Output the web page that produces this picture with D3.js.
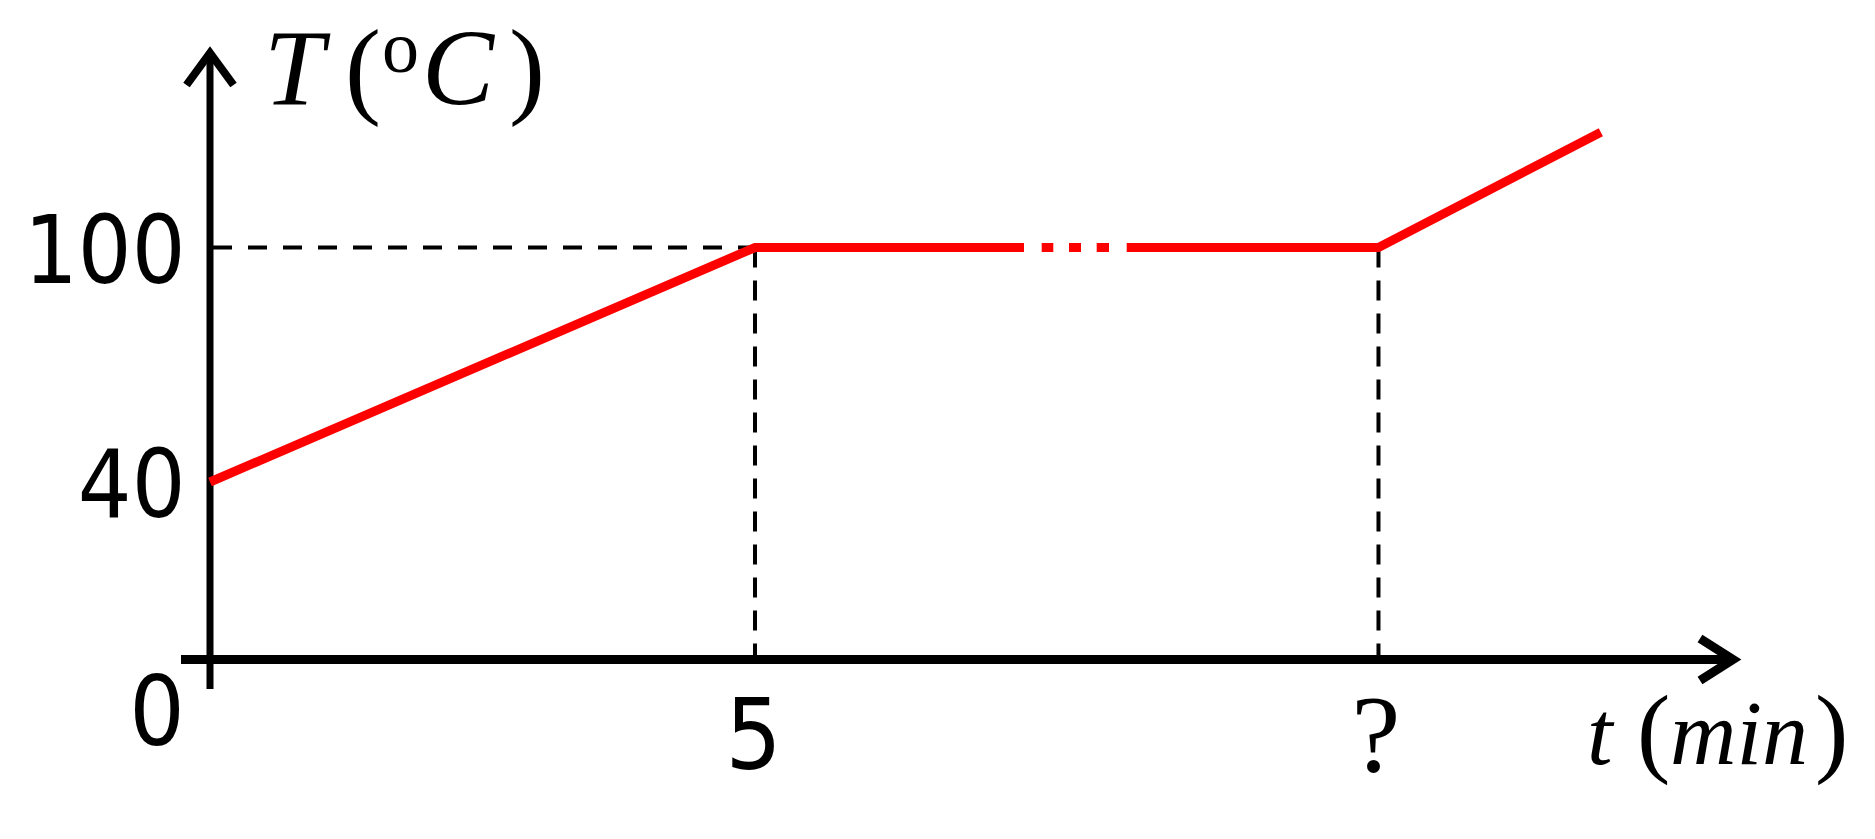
<!DOCTYPE html>
<html>
<head>
<meta charset="utf-8">
<script src="https://cdn.jsdelivr.net/npm/d3@7"></script>
<style>
  html, body { margin: 0; padding: 0; background: #fff; }
  svg { display: block; }
</style>
</head>
<body>
<div id="vis"></div>
<script>
// heating curve: water from 40 C up to boiling, plateau, then steam
const timePoints = [0, 5, 10.72, 12.76];      // min ("?" time)
const tempPoints = [40, 100, 100, 129.5];     // deg C
const timeTicks = [5, 10.72];
const timeTickLabels = ["5", "?"];
const tempTicks = [40, 100];

const width = 1875;
const height = 839;

const svg = d3.select("#vis")
  .append("svg")
  .attr("width", width)
  .attr("height", height);

// the drawing is not to scale, so the temperature scale is piecewise
const x = d3.scaleLinear().domain([0, 5]).range([210, 755]);
const y = d3.scaleLinear().domain([0, 40, 100]).range([659.5, 482, 247.5]);

const x0 = x(0), y0 = y(0);
const xEnd = 1733, yTop = 53;

const sans = "DejaVu Sans";
const serif = "Liberation Serif";

// dashed guide lines
const guides = svg.append("g")
  .attr("stroke", "#000")
  .attr("stroke-width", 4)
  .attr("fill", "none");

guides.append("line")
  .attr("x1", x0).attr("x2", x(5))
  .attr("y1", y(100)).attr("y2", y(100))
  .attr("stroke-dasharray", "19,16")
  .attr("stroke-dashoffset", -3);

guides.selectAll(".vguide")
  .data(timeTicks)
  .join("line")
    .attr("class", "vguide")
    .attr("x1", d => x(d)).attr("x2", d => x(d))
    .attr("y1", y(100)).attr("y2", y0 + 10)
    .attr("stroke-dasharray", "20,13");

// axes lines with open arrow heads
const axes = svg.append("g")
  .attr("stroke", "#000")
  .attr("fill", "none");

axes.append("line")
  .attr("x1", x0).attr("x2", x0)
  .attr("y1", 689).attr("y2", yTop)
  .attr("stroke-width", 7);

axes.append("path")
  .attr("d", `M${x0 - 23.5},${yTop + 32}L${x0},${yTop}L${x0 + 23.5},${yTop + 32}`)
  .attr("stroke-width", 8)
  .attr("stroke-linejoin", "miter");

axes.append("line")
  .attr("x1", 181).attr("x2", xEnd)
  .attr("y1", y0).attr("y2", y0)
  .attr("stroke-width", 9);

axes.append("path")
  .attr("d", `M${xEnd - 33},${y0 - 21}L${xEnd},${y0}L${xEnd - 33},${y0 + 21}`)
  .attr("stroke-width", 9)
  .attr("stroke-linejoin", "miter");

// red curve, with the little dotted break in the plateau
const pts = timePoints.map((t, i) => [x(t), y(tempPoints[i])]);
const firstLen = Math.hypot(pts[1][0] - pts[0][0], pts[1][1] - pts[0][1]);

svg.append("path")
  .datum(pts)
  .attr("d", d3.line())
  .attr("fill", "none")
  .attr("stroke", "#ff0000")
  .attr("stroke-width", 9)
  .attr("stroke-linejoin", "miter")
  .attr("stroke-dasharray", [firstLen + 269, 17.7, 11.6, 15.7, 12, 15.7, 12.3, 17.7, 5000].join(","));

// tick labels
const yAxis = svg.append("g")
  .attr("transform", `translate(${x0},0)`)
  .call(d3.axisLeft(y).tickValues(tempTicks).tickSize(0));
yAxis.select(".domain").remove();
yAxis.selectAll("text")
  .attr("x", 0).attr("dy", 0)
  .attr("transform", "translate(-24.5,34.5) scale(0.9,1)")
  .attr("fill", "#000")
  .attr("font-family", sans)
  .attr("font-size", 94)
  .attr("text-anchor", "end");

const xAxis = svg.append("g")
  .attr("transform", `translate(0,${y0})`)
  .call(d3.axisBottom(x).tickValues(timeTicks)
    .tickFormat((d, i) => timeTickLabels[i]).tickSize(0));
xAxis.select(".domain").remove();
xAxis.selectAll("text")
  .attr("y", 0).attr("dy", 0)
  .attr("fill", "#000")
  .attr("text-anchor", "middle")
  .each(function(d, i) {
    const t = d3.select(this);
    if (timeTickLabels[i] == "?") {
      t.attr("transform", "translate(-3,111)")
        .attr("font-family", serif)
        .attr("font-size", 110);
    } else {
      t.attr("transform", "translate(-2,109.5) scale(0.9,1)")
        .attr("font-family", sans)
        .attr("font-size", 98);
    }
  });

svg.append("text")
  .attr("transform", `translate(157,745) scale(0.9,1)`)
  .attr("text-anchor", "middle")
  .attr("font-family", sans)
  .attr("font-size", 97)
  .text("0");

// axis titles
const yTitle = svg.append("text")
  .attr("font-family", serif);
yTitle.append("tspan").attr("x", 264).attr("y", 104).attr("font-style", "italic").attr("font-size", 108).text("T");
yTitle.append("tspan").attr("x", 345).attr("y", 104).attr("font-size", 108).text("(");
yTitle.append("tspan").attr("x", 382).attr("y", 72).attr("font-size", 74).text("o");
yTitle.append("tspan").attr("x", 422).attr("y", 104).attr("font-style", "italic").attr("font-size", 108).text("C");
yTitle.append("tspan").attr("x", 509).attr("y", 104).attr("font-size", 108).text(")");

const xTitle = svg.append("text")
  .attr("y", 764)
  .attr("font-family", serif);
xTitle.append("tspan").attr("x", 1587).attr("font-style", "italic").attr("font-size", 92).text("t");
xTitle.append("tspan").attr("x", 1637).attr("font-size", 100).text("(");
xTitle.append("tspan").attr("x", 1670).attr("font-style", "italic").attr("font-size", 92).text("min");
xTitle.append("tspan").attr("x", 1815).attr("font-size", 100).text(")");
</script>
</body>
</html>
